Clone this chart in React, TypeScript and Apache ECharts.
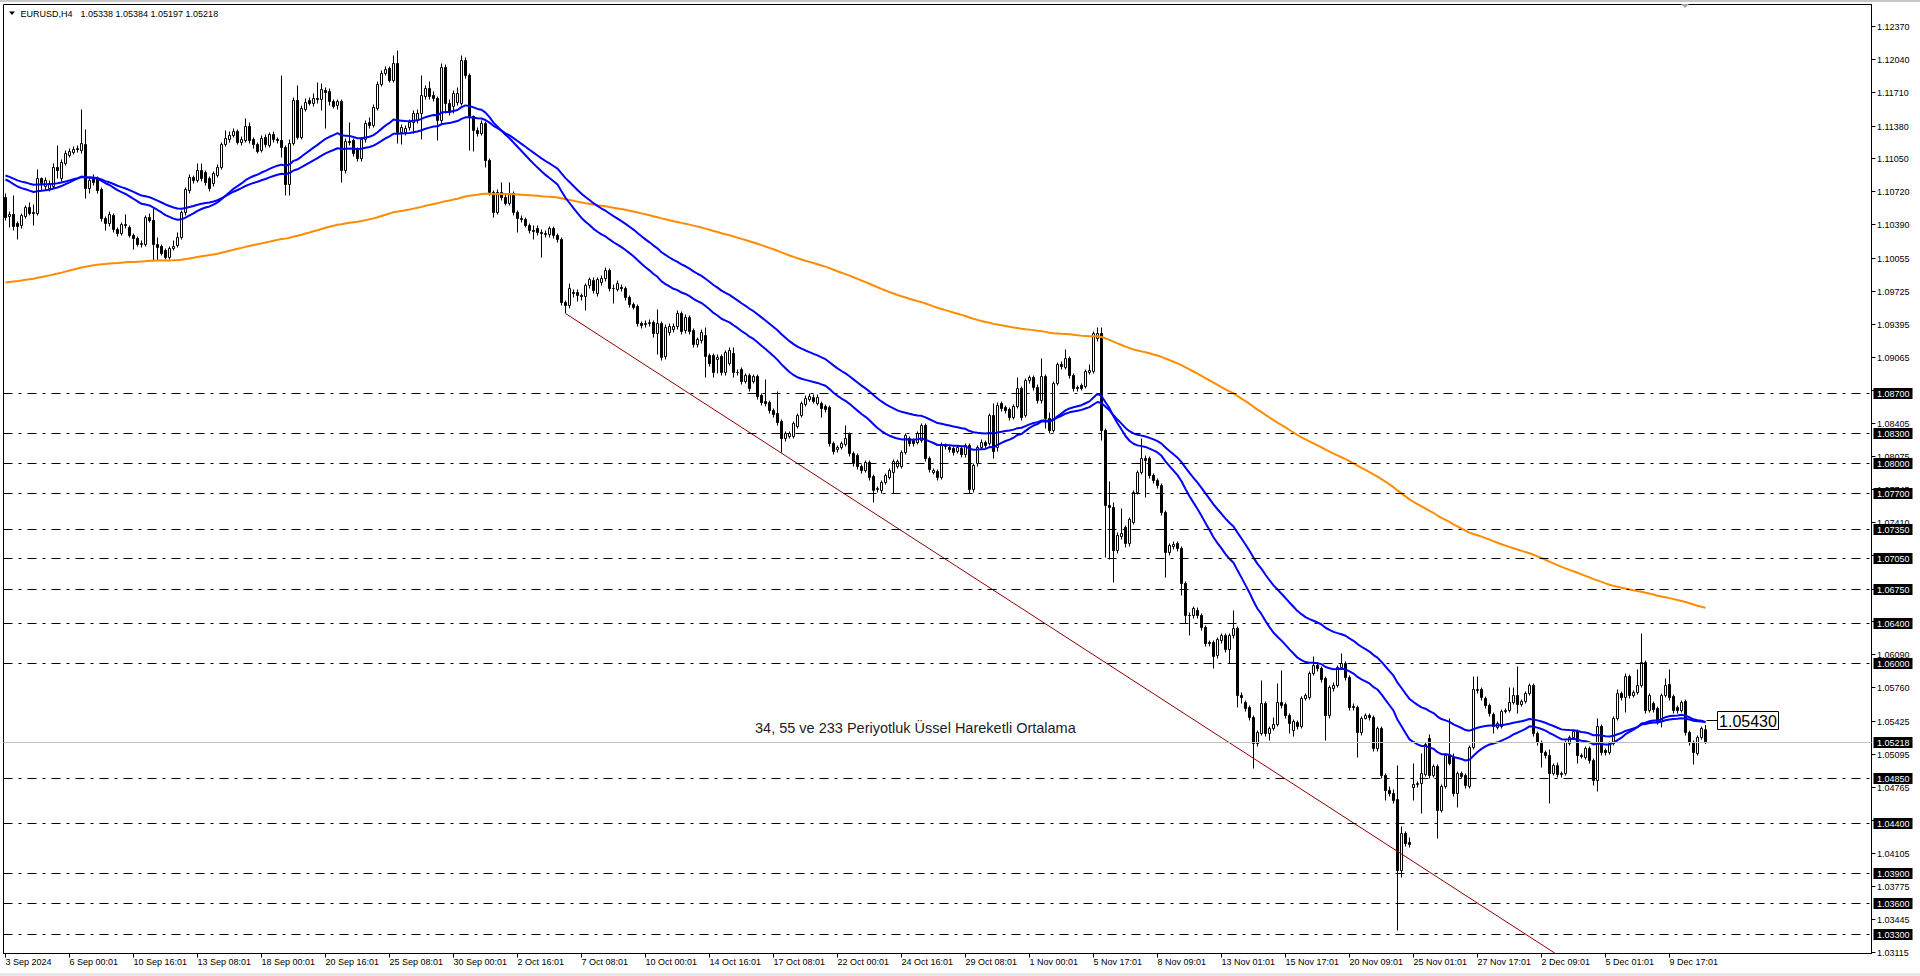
import React, { useEffect, useRef } from "react";
import * as echarts from "echarts";

const FONT = '"Liberation Sans", Arial, sans-serif';

const symbolTitle = "EURUSD,H4";
const lastOhlc = ["1.05338", "1.05384", "1.05197", "1.05218"];
const annotation = "34, 55 ve 233 Periyotluk Üssel Hareketli Ortalama";

// prices in pips (x 1e-4)
const opens = [
  11066, 11047, 11049, 11040, 11038, 11047, 11056, 11051, 11050, 11085,
  11077, 11075, 11077, 11096, 11085, 11100, 11108, 11111, 11114, 11113,
  11119, 11075, 11086, 11085, 11074, 11045, 11040, 11048, 11034, 11030,
  11038, 11036, 11028, 11025, 11019, 11019, 11046, 11043, 11019, 11017,
  11013, 11006, 11015, 11018, 11026, 11051, 11073, 11086, 11083, 11093,
  11091, 11085, 11080, 11088, 11096, 11119, 11124, 11128, 11132, 11121,
  11123, 11137, 11124, 11119, 11113, 11126, 11118, 11129, 11124, 11123,
  11116, 11079, 11120, 11163, 11126, 11154, 11163, 11160, 11165, 11164,
  11173, 11172, 11162, 11158, 11162, 11093, 11122, 11123, 11114, 11105,
  11124, 11141, 11138, 11155, 11179, 11190, 11195, 11183, 11200, 11131,
  11131, 11136, 11141, 11143, 11150, 11167, 11175, 11168, 11165, 11143,
  11196, 11160, 11157, 11161, 11160, 11203, 11188, 11147, 11133, 11130,
  11140, 11103, 11071, 11051, 11071, 11066, 11060, 11070, 11051, 11045,
  11044, 11038, 11033, 11035, 11031, 11029, 11029, 11035, 11028, 11024,
  10961, 10958, 10971, 10971, 10968, 10967, 10978, 10983, 10970, 10981,
  10985, 10993, 10975, 10974, 10976, 10975, 10966, 10959, 10957, 10940,
  10939, 10940, 10941, 10930, 10940, 10907, 10931, 10934, 10937, 10950,
  10933, 10946, 10933, 10919, 10923, 10928, 10908, 10908, 10904, 10907,
  10891, 10900, 10910, 10891, 10894, 10882, 10888, 10882, 10887, 10868,
  10862, 10861, 10853, 10850, 10842, 10825, 10827, 10827, 10837, 10848,
  10859, 10864, 10866, 10860, 10860, 10857, 10856, 10820, 10814, 10816,
  10819, 10829, 10810, 10808, 10797, 10793, 10801, 10787, 10774, 10773,
  10781, 10786, 10791, 10797, 10797, 10811, 10825, 10823, 10821, 10823,
  10838, 10805, 10791, 10792, 10786, 10817, 10816, 10815, 10812, 10815,
  10809, 10818, 10774, 10800, 10816, 10821, 10820, 10848, 10816, 10860,
  10856, 10854, 10846, 10857, 10875, 10848, 10883, 10886, 10876, 10863,
  10887, 10845, 10833, 10880, 10899, 10896, 10905, 10888, 10876, 10878,
  10877, 10891, 10892, 10925, 10930, 10833, 10758, 10756, 10713, 10727,
  10736, 10720, 10741, 10771, 10791, 10805, 10805, 10788, 10783, 10778,
  10751, 10711, 10717, 10720, 10715, 10680, 10648, 10648, 10653, 10648,
  10636, 10621, 10621, 10608, 10623, 10628, 10614, 10628, 10635, 10568,
  10561, 10556, 10546, 10520, 10530, 10560, 10530, 10535, 10539, 10561,
  10559, 10548, 10533, 10541, 10537, 10565, 10566, 10590, 10598, 10595,
  10585, 10548, 10575, 10578, 10596, 10600, 10586, 10557, 10556, 10531,
  10545, 10548, 10546, 10515, 10535, 10488, 10473, 10470, 10464, 10393,
  10430, 10421, 10476, 10479, 10480, 10489, 10525, 10488, 10497, 10453,
  10477, 10508, 10506, 10470, 10490, 10488, 10477, 10516, 10573, 10574,
  10565, 10558, 10549, 10536, 10537, 10552, 10553, 10561, 10568, 10559,
  10562, 10570, 10578, 10530, 10521, 10511, 10508, 10490, 10498, 10489,
  10490, 10520, 10526, 10532, 10508, 10506, 10515, 10503, 10483, 10537,
  10513, 10511, 10520, 10545, 10570, 10566, 10587, 10568, 10571, 10578,
  10601, 10553, 10560, 10555, 10542, 10568, 10579, 10567, 10556, 10553,
  10562, 10531, 10521, 10510, 10526, 10533.8,
];

const highs = [
  11070, 11052, 11068, 11042, 11050, 11058, 11061, 11059, 11094, 11086,
  11086, 11083, 11100, 11118, 11104, 11113, 11115, 11117, 11118, 11154,
  11134, 11086, 11089, 11087, 11076, 11047, 11052, 11050, 11036, 11041,
  11049, 11038, 11030, 11027, 11023, 11048, 11050, 11055, 11026, 11019,
  11015, 11017, 11023, 11031, 11053, 11076, 11089, 11088, 11100, 11100,
  11093, 11087, 11092, 11099, 11121, 11133, 11132, 11135, 11134, 11127,
  11145, 11141, 11126, 11121, 11128, 11129, 11131, 11132, 11126, 11188,
  11118, 11124, 11166, 11178, 11158, 11165, 11166, 11170, 11181, 11180,
  11176, 11175, 11164, 11164, 11164, 11125, 11141, 11125, 11116, 11126,
  11143, 11146, 11159, 11182, 11193, 11197, 11197, 11208, 11213, 11139,
  11138, 11144, 11153, 11154, 11188, 11178, 11182, 11172, 11167, 11200,
  11199, 11164, 11173, 11176, 11208, 11206, 11190, 11148, 11136, 11143,
  11142, 11105, 11073, 11074, 11081, 11070, 11081, 11072, 11053, 11048,
  11046, 11040, 11038, 11038, 11034, 11033, 11037, 11037, 11030, 11026,
  10963, 10980, 10974, 10974, 10970, 10980, 10986, 10986, 10986, 10988,
  10996, 10995, 10979, 10983, 10979, 10977, 10968, 10961, 10959, 10942,
  10943, 10944, 10943, 10954, 10942, 10939, 10940, 10940, 10953, 10952,
  10949, 10948, 10935, 10926, 10934, 10936, 10910, 10910, 10909, 10909,
  10913, 10916, 10916, 10894, 10896, 10890, 10890, 10889, 10889, 10870,
  10884, 10863, 10855, 10872, 10844, 10832, 10832, 10842, 10850, 10862,
  10868, 10870, 10869, 10869, 10862, 10859, 10858, 10822, 10818, 10822,
  10838, 10831, 10812, 10810, 10799, 10803, 10803, 10789, 10777, 10783,
  10790, 10795, 10804, 10804, 10813, 10830, 10827, 10825, 10832, 10840,
  10840, 10807, 10795, 10794, 10821, 10820, 10818, 10817, 10818, 10817,
  10820, 10820, 10800, 10818, 10824, 10823, 10850, 10860, 10861, 10862,
  10858, 10856, 10859, 10886, 10877, 10885, 10888, 10888, 10879, 10905,
  10889, 10851, 10882, 10901, 10902, 10914, 10907, 10890, 10878, 10880,
  10894, 10899, 10932, 10936, 10936, 10835, 10782, 10761, 10731, 10755,
  10738, 10746, 10773, 10793, 10825, 10808, 10807, 10790, 10785, 10780,
  10753, 10720, 10722, 10722, 10717, 10682, 10651, 10657, 10656, 10650,
  10638, 10623, 10623, 10626, 10630, 10630, 10630, 10653, 10637, 10571,
  10563, 10558, 10548, 10533, 10583, 10562, 10537, 10546, 10580, 10593,
  10561, 10550, 10544, 10543, 10567, 10570, 10592, 10607, 10601, 10597,
  10587, 10578, 10581, 10598, 10610, 10602, 10588, 10560, 10558, 10547,
  10550, 10550, 10548, 10537, 10537, 10490, 10477, 10474, 10498, 10437,
  10432, 10426, 10500, 10482, 10510, 10521, 10529, 10499, 10499, 10479,
  10510, 10545, 10510, 10492, 10492, 10490, 10518, 10587, 10587, 10576,
  10567, 10560, 10551, 10542, 10554, 10555, 10576, 10576, 10597, 10564,
  10572, 10580, 10580, 10532, 10523, 10513, 10514, 10500, 10501, 10492,
  10523, 10528, 10534, 10534, 10510, 10517, 10517, 10505, 10545, 10539,
  10515, 10522, 10547, 10574, 10572, 10590, 10589, 10573, 10594, 10630,
  10603, 10570, 10562, 10557, 10570, 10585, 10594, 10569, 10558, 10563,
  10564, 10533, 10523, 10528, 10537, 10538.4,
];

const lows = [
  11043, 11036, 11033, 11024, 11035, 11045, 11048, 11038, 11048, 11073,
  11074, 11072, 11075, 11085, 11082, 11098, 11106, 11109, 11111, 11110,
  11065, 11070, 11078, 11070, 11042, 11033, 11037, 11031, 11027, 11028,
  11035, 11026, 11014, 11017, 11016, 11017, 11041, 11003, 11003, 11008,
  11004, 11004, 11013, 11016, 11024, 11048, 11070, 11080, 11081, 11082,
  11078, 11072, 11077, 11086, 11094, 11117, 11121, 11126, 11119, 11118,
  11121, 11120, 11115, 11110, 11111, 11116, 11116, 11121, 11120, 11106,
  11068, 11068, 11118, 11124, 11124, 11152, 11158, 11157, 11160, 11153,
  11135, 11158, 11155, 11154, 11081, 11090, 11118, 11107, 11102, 11102,
  11121, 11135, 11136, 11153, 11177, 11188, 11181, 11181, 11120, 11119,
  11128, 11133, 11130, 11140, 11124, 11164, 11164, 11162, 11123, 11140,
  11150, 11148, 11150, 11158, 11158, 11185, 11113, 11112, 11127, 11128,
  11096, 11068, 11046, 11049, 11063, 11058, 11058, 11048, 11031, 11041,
  11036, 11030, 11024, 11028, 11006, 11026, 11026, 11025, 11021, 10958,
  10950, 10955, 10966, 10962, 10963, 10953, 10975, 10970, 10967, 10978,
  10982, 10972, 10960, 10972, 10972, 10963, 10956, 10954, 10937, 10935,
  10936, 10937, 10926, 10909, 10903, 10904, 10928, 10931, 10934, 10929,
  10930, 10929, 10916, 10916, 10920, 10886, 10897, 10886, 10890, 10888,
  10888, 10898, 10886, 10888, 10879, 10880, 10872, 10880, 10864, 10858,
  10857, 10850, 10846, 10838, 10811, 10822, 10825, 10825, 10835, 10846,
  10857, 10862, 10860, 10858, 10846, 10851, 10817, 10809, 10811, 10814,
  10817, 10807, 10797, 10794, 10790, 10791, 10783, 10761, 10771, 10770,
  10779, 10784, 10770, 10795, 10795, 10809, 10817, 10817, 10819, 10821,
  10802, 10791, 10789, 10783, 10784, 10814, 10811, 10808, 10810, 10806,
  10806, 10770, 10771, 10797, 10814, 10815, 10818, 10805, 10812, 10852,
  10850, 10843, 10844, 10855, 10843, 10846, 10880, 10873, 10860, 10860,
  10835, 10830, 10831, 10878, 10894, 10894, 10885, 10872, 10872, 10873,
  10875, 10889, 10890, 10922, 10823, 10706, 10704, 10681, 10710, 10724,
  10716, 10717, 10739, 10769, 10789, 10766, 10785, 10780, 10775, 10748,
  10686, 10708, 10714, 10712, 10668, 10640, 10628, 10645, 10645, 10633,
  10617, 10617, 10595, 10605, 10620, 10611, 10600, 10625, 10556, 10560,
  10552, 10543, 10495, 10517, 10528, 10527, 10523, 10533, 10537, 10555,
  10545, 10530, 10527, 10534, 10535, 10563, 10564, 10588, 10592, 10581,
  10523, 10545, 10572, 10576, 10594, 10583, 10553, 10553, 10506, 10528,
  10544, 10543, 10512, 10512, 10485, 10463, 10467, 10460, 10333, 10386,
  10417, 10416, 10463, 10476, 10450, 10487, 10485, 10486, 10425, 10451,
  10475, 10498, 10467, 10456, 10485, 10475, 10475, 10514, 10570, 10563,
  10555, 10547, 10530, 10534, 10535, 10550, 10551, 10559, 10550, 10557,
  10560, 10568, 10527, 10518, 10496, 10505, 10460, 10488, 10486, 10486,
  10488, 10518, 10524, 10500, 10505, 10504, 10500, 10478, 10472, 10508,
  10508, 10509, 10518, 10543, 10563, 10551, 10565, 10566, 10569, 10576,
  10550, 10551, 10551, 10539, 10536, 10566, 10563, 10550, 10550, 10551,
  10528, 10518, 10499, 10508, 10524, 10519.7,
];

const closes = [
  11046, 11049, 11037, 11037, 11048, 11056, 11050, 11050, 11085, 11080,
  11083, 11080, 11096, 11093, 11101, 11110, 11112, 11114, 11115, 11120,
  11075, 11083, 11081, 11073, 11045, 11040, 11049, 11034, 11030, 11039,
  11039, 11028, 11025, 11019, 11020, 11046, 11043, 11019, 11016, 11010,
  11006, 11015, 11017, 11026, 11051, 11074, 11086, 11083, 11093, 11085,
  11081, 11075, 11090, 11096, 11119, 11125, 11128, 11132, 11121, 11124,
  11137, 11123, 11119, 11112, 11125, 11119, 11129, 11124, 11123, 11116,
  11079, 11120, 11163, 11126, 11155, 11161, 11160, 11165, 11164, 11174,
  11171, 11162, 11157, 11162, 11093, 11122, 11121, 11110, 11105, 11124,
  11140, 11138, 11156, 11179, 11190, 11194, 11183, 11200, 11131, 11136,
  11135, 11141, 11150, 11150, 11168, 11175, 11167, 11165, 11143, 11196,
  11160, 11151, 11170, 11170, 11203, 11188, 11147, 11133, 11130, 11140,
  11103, 11071, 11051, 11071, 11066, 11060, 11070, 11051, 11045, 11044,
  11038, 11033, 11032, 11031, 11030, 11030, 11035, 11028, 11024, 10961,
  10958, 10975, 10970, 10968, 10967, 10978, 10984, 10973, 10984, 10985,
  10993, 10975, 10975, 10980, 10975, 10966, 10959, 10956, 10940, 10938,
  10940, 10941, 10930, 10940, 10906, 10936, 10937, 10937, 10950, 10932,
  10946, 10932, 10919, 10924, 10931, 10907, 10900, 10891, 10906, 10891,
  10911, 10913, 10891, 10891, 10882, 10888, 10875, 10887, 10867, 10861,
  10860, 10853, 10849, 10841, 10825, 10830, 10830, 10840, 10848, 10860,
  10865, 10867, 10862, 10866, 10855, 10854, 10820, 10812, 10816, 10820,
  10825, 10810, 10800, 10797, 10793, 10801, 10786, 10773, 10775, 10781,
  10788, 10793, 10802, 10802, 10811, 10828, 10820, 10820, 10830, 10838,
  10805, 10794, 10793, 10786, 10819, 10817, 10814, 10811, 10816, 10809,
  10818, 10774, 10798, 10816, 10821, 10818, 10848, 10812, 10858, 10855,
  10853, 10846, 10857, 10875, 10846, 10883, 10886, 10876, 10863, 10887,
  10845, 10833, 10880, 10899, 10897, 10905, 10888, 10875, 10875, 10875,
  10892, 10893, 10930, 10930, 10833, 10758, 10756, 10713, 10728, 10730,
  10720, 10744, 10771, 10791, 10805, 10803, 10788, 10783, 10778, 10751,
  10711, 10718, 10719, 10715, 10680, 10648, 10648, 10655, 10648, 10636,
  10620, 10620, 10607, 10624, 10628, 10614, 10628, 10635, 10568, 10566,
  10555, 10546, 10520, 10531, 10560, 10530, 10535, 10539, 10561, 10558,
  10548, 10540, 10542, 10537, 10565, 10568, 10590, 10598, 10595, 10584,
  10548, 10576, 10578, 10596, 10600, 10586, 10556, 10556, 10531, 10545,
  10548, 10546, 10515, 10535, 10488, 10473, 10470, 10463, 10393, 10430,
  10420, 10419, 10479, 10480, 10490, 10519, 10488, 10497, 10453, 10477,
  10508, 10500, 10470, 10490, 10487, 10478, 10516, 10574, 10574, 10566,
  10558, 10550, 10537, 10540, 10552, 10553, 10561, 10568, 10559, 10562,
  10570, 10578, 10530, 10521, 10511, 10508, 10490, 10498, 10489, 10490,
  10521, 10526, 10532, 10508, 10507, 10515, 10503, 10483, 10537, 10511,
  10511, 10520, 10545, 10570, 10566, 10587, 10568, 10571, 10578, 10601,
  10553, 10568, 10554, 10542, 10568, 10578, 10566, 10553, 10553, 10561,
  10531, 10521, 10511, 10526, 10535, 10521.8,
];

const xLabels = [
  "3 Sep 2024", "6 Sep 00:01", "10 Sep 16:01", "13 Sep 08:01", "18 Sep 00:01",
  "20 Sep 16:01", "25 Sep 08:01", "30 Sep 00:01", "2 Oct 16:01", "7 Oct 08:01",
  "10 Oct 00:01", "14 Oct 16:01", "17 Oct 08:01", "22 Oct 00:01", "24 Oct 16:01",
  "29 Oct 08:01", "1 Nov 00:01", "5 Nov 17:01", "8 Nov 09:01", "13 Nov 01:01",
  "15 Nov 17:01", "20 Nov 09:01", "25 Nov 01:01", "27 Nov 17:01", "2 Dec 09:01",
  "5 Dec 01:01", "9 Dec 17:01",
];
const BARS_PER_LABEL = 16;
const SLOTS = 467;

const yTickLabels = [
  "1.12370", "1.12040", "1.11710", "1.11380", "1.11050", "1.10720", "1.10390",
  "1.10055", "1.09725", "1.09395", "1.09065", "1.08735", "1.08405", "1.08075",
  "1.07745", "1.07410", "1.07080", "1.06750", "1.06420", "1.06090", "1.05760",
  "1.05425", "1.05095", "1.04765", "1.04435", "1.04105", "1.03775", "1.03445",
  "1.03115",
];
const levelLabels = [
  "1.08700", "1.08300", "1.08000", "1.07700", "1.07350", "1.07050", "1.06750",
  "1.06400", "1.06000", "1.04850", "1.04400", "1.03900", "1.03600", "1.03300",
];
const bidLabel = "1.05218";
const emaTag = { index: 425, label: "1.05430" };
const trendPoints = [[140, 1.095], [400, 1.02776]];
const emaSeeds = { e34: 1.1084, e55: 1.1088, e233: 1.0981 };
const Y_MIN = 1.031;
const Y_MAX = 1.1259;

function ema(values: number[], period: number, seed: number): number[] {
  const k = 2 / (period + 1);
  const out: number[] = [];
  let prev = seed;
  values.forEach((v, i) => {
    prev = i === 0 ? seed : prev + k * (v - prev);
    out.push(+prev.toFixed(6));
  });
  return out;
}

function buildOption(): any {
  const toPrice = (p: number) => +(p / 10000).toFixed(6);
  const closePrices = closes.map(toPrice);
  const candleData = opens.map((o, i) => [
    toPrice(o),
    toPrice(closes[i]),
    toPrice(lows[i]),
    toPrice(highs[i]),
  ]);
  const categories = Array.from({ length: SLOTS }, (_, i) => String(i));
  const e34 = ema(closePrices, 34, emaSeeds.e34);
  const e55 = ema(closePrices, 55, emaSeeds.e55);
  const e233 = ema(closePrices, 233, emaSeeds.e233);
  const showLabel = (i: number) =>
    i % BARS_PER_LABEL === 0 && i / BARS_PER_LABEL < xLabels.length;

  const textStyle = (text: string, x: number, y: number, fill: string, size: number, align = "left") => ({
    text,
    x,
    y,
    fill,
    font: `${size}px ${FONT}`,
    align,
    verticalAlign: "middle",
    textAlign: align,
    textVerticalAlign: "middle",
  });

  return {
    animation: false,
    backgroundColor: "#ffffff",
    tooltip: { show: false },
    grid: {
      left: 3.5,
      right: 48.5,
      top: 4.5,
      bottom: 22.5,
      show: true,
      borderColor: "#000",
      borderWidth: 1,
      backgroundColor: "transparent",
    },
    xAxis: {
      type: "category",
      data: categories,
      boundaryGap: true,
      axisLine: { show: true, lineStyle: { color: "#000", width: 1 } },
      axisTick: {
        show: true,
        alignWithLabel: true,
        interval: (i: number) => showLabel(i),
        length: 4,
        lineStyle: { color: "#000", width: 1 },
      },
      axisLabel: {
        show: true,
        interval: (i: number) => showLabel(i),
        formatter: (_v: string, i: number) =>
          showLabel(i) ? xLabels[i / BARS_PER_LABEL] : "",
        color: "#000",
        fontSize: 9,
        fontFamily: FONT,
        align: "left",
        margin: 4,
      },
      splitLine: { show: false },
    },
    yAxis: {
      type: "value",
      position: "right",
      min: Y_MIN,
      max: Y_MAX,
      axisLine: { show: true, lineStyle: { color: "#000", width: 1 } },
      axisTick: { show: false },
      axisLabel: { show: false },
      splitLine: { show: false },
    },
    series: [
      {
        type: "custom",
        name: "yticks",
        z: 1,
        silent: true,
        clip: false,
        data: yTickLabels.map((s) => [0, Number(s)]),
        renderItem: (params: any, api: any) => {
          const cs = params.coordSys;
          const xr = cs.x + cs.width;
          const y = Math.round(api.coord([0, api.value(1)])[1]) + 0.5;
          return {
            type: "group",
            children: [
              { type: "line", shape: { x1: xr, y1: y, x2: xr + 4, y2: y }, style: { stroke: "#000", lineWidth: 1 } },
              { type: "text", style: textStyle(yTickLabels[params.dataIndex], xr + 5.5, y, "#000", 9) },
            ],
          };
        },
      },
      {
        type: "candlestick",
        name: "EURUSD",
        data: candleData,
        barWidth: 2,
        z: 3,
        silent: true,
        itemStyle: {
          color: "#ffffff",
          color0: "#000000",
          borderColor: "#000000",
          borderColor0: "#000000",
          borderColorDoji: "#000000",
          borderWidth: 1,
        },
      },
      {
        type: "line",
        name: "EMA233",
        data: e233,
        symbol: "none",
        silent: true,
        z: 4,
        lineStyle: { color: "#FF8C00", width: 2 },
      },
      {
        type: "line",
        name: "EMA55",
        data: e55,
        symbol: "none",
        silent: true,
        z: 4,
        lineStyle: { color: "#0000FF", width: 2 },
      },
      {
        type: "line",
        name: "EMA34",
        data: e34,
        symbol: "none",
        silent: true,
        z: 4,
        lineStyle: { color: "#0000FF", width: 2 },
      },
      {
        type: "line",
        name: "trend",
        data: trendPoints,
        symbol: "none",
        silent: true,
        clip: true,
        z: 5,
        lineStyle: { color: "#8B0000", width: 1 },
      },
      {
        type: "custom",
        name: "levels",
        z: 6,
        silent: true,
        clip: false,
        data: levelLabels.map((s) => [0, Number(s)]),
        renderItem: (params: any, api: any) => {
          const cs = params.coordSys;
          const xr = cs.x + cs.width;
          const y = Math.round(api.coord([0, api.value(1)])[1]) + 0.5;
          return {
            type: "group",
            children: [
              { type: "line", shape: { x1: cs.x, y1: y, x2: xr, y2: y }, style: { stroke: "#000", lineWidth: 1, lineDash: [9, 6, 3, 6] } },
              { type: "rect", shape: { x: xr + 2, y: y - 5.5, width: 39, height: 11 }, style: { fill: "#000" } },
              { type: "text", style: textStyle(levelLabels[params.dataIndex], xr + 5.5, y, "#fff", 9) },
            ],
          };
        },
      },
      {
        type: "custom",
        name: "bid",
        z: 6,
        silent: true,
        clip: false,
        data: [[0, Number(bidLabel)]],
        renderItem: (params: any, api: any) => {
          const cs = params.coordSys;
          const xr = cs.x + cs.width;
          const y = Math.round(api.coord([0, api.value(1)])[1]) + 0.5;
          return {
            type: "group",
            children: [
              { type: "line", shape: { x1: cs.x, y1: y, x2: xr, y2: y }, style: { stroke: "#c0c0c0", lineWidth: 1 } },
              { type: "rect", shape: { x: xr + 2, y: y - 5.5, width: 39, height: 11 }, style: { fill: "#000" } },
              { type: "text", style: textStyle(bidLabel, xr + 5.5, y, "#fff", 9) },
            ],
          };
        },
      },
      {
        type: "custom",
        name: "emaTag",
        z: 7,
        silent: true,
        clip: false,
        data: [[emaTag.index, Number(emaTag.label)]],
        renderItem: (_params: any, api: any) => {
          const pt = api.coord([api.value(0), api.value(1)]);
          const x = pt[0];
          const y = Math.round(pt[1]) + 0.5;
          return {
            type: "group",
            children: [
              { type: "line", shape: { x1: x + 1, y1: y, x2: x + 12, y2: y }, style: { stroke: "#000", lineWidth: 1 } },
              { type: "rect", shape: { x: Math.round(x) + 11.5, y: y - 9, width: 61, height: 18 }, style: { fill: "#fff", stroke: "#000", lineWidth: 1 } },
              { type: "text", style: textStyle(emaTag.label, Math.round(x) + 42, y + 0.5, "#000", 16, "center") },
            ],
          };
        },
      },
    ],
    graphic: [
      { type: "rect", silent: true, shape: { x: 0, y: 0, width: 1920, height: 2 }, style: { fill: "#c8c8c8" } },
      { type: "rect", silent: true, shape: { x: 0, y: 973, width: 1920, height: 3 }, style: { fill: "#e8e8e8" } },
      { type: "polygon", silent: true, shape: { points: [[9, 11.5], [15, 11.5], [12, 15]] }, style: { fill: "#000" } },
      { type: "text", silent: true, style: textStyle(symbolTitle, 20.5, 13.5, "#000", 9) },
      { type: "text", silent: true, style: textStyle(lastOhlc.join(" "), 80.5, 13.5, "#000", 9) },
      { type: "polygon", silent: true, shape: { points: [[1681, 4], [1689, 4], [1685, 8]] }, style: { fill: "#a8a8a8" } },
      { type: "text", silent: true, style: textStyle(annotation, 755, 728, "#1c1c28", 14.5) },
    ],
  };
}

export default function App() {
  const ref = useRef<HTMLDivElement>(null);
  useEffect(() => {
    document.body.style.margin = "0";
    if (!ref.current) return;
    const chart = echarts.init(ref.current, null, { renderer: "svg" });
    chart.setOption(buildOption());
    return () => chart.dispose();
  }, []);
  return <div ref={ref} style={{ width: 1920, height: 976, background: "#fff" }} />;
}
